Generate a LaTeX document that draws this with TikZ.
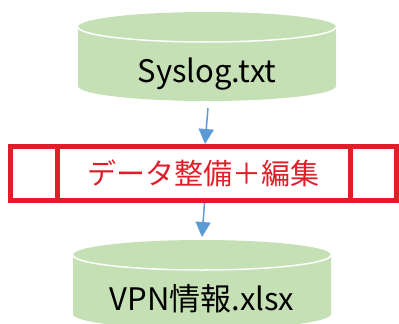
\documentclass[tikz,border=0pt]{standalone}
\usepackage{fontspec}
\setmainfont{Noto Sans CJK JP}
\usetikzlibrary{arrows.meta,positioning,backgrounds}
\definecolor{dbgreen}{HTML}{C5E0B4}
\definecolor{procred}{HTML}{E01E2A}
\definecolor{flowblue}{HTML}{5B9BD5}
\begin{document}
\begin{tikzpicture}[
    x=1pt, y=-1pt,
    database/.style={inner sep=0pt, outer sep=0pt,
        minimum width=258pt, minimum height=89pt,
        text height=52.7pt, text depth=0pt,
        font=\fontsize{31}{31}\selectfont},
    dbrim/.style={draw=white, line width=1.5pt},
    procbox/.style={draw=procred, line width=5pt, outer sep=0pt,
        minimum width=386pt, minimum height=54pt, text=procred,
        font=\fontsize{29}{29}\selectfont},
    procline/.style={draw=procred, line width=5pt},
    flow/.style={draw=flowblue, line width=1.5pt,
        -{Triangle[length=15pt,width=15pt]}}
]
\useasboundingbox (0,0) rectangle (399,324);
% data stores
\node[database] (syslog) at (207,56.5) {Syslog.txt};
\node[database] (vpn) at (202,284.5) {VPN情報.xlsx};
\begin{scope}[on background layer]
\foreach \db in {syslog,vpn}{
    \fill[dbgreen] ([yshift=-15pt]\db.north west) -- ([yshift=15pt]\db.south west)
        arc[start angle=180, end angle=360, x radius=129pt, y radius=15pt]
        -- ([yshift=-15pt]\db.north east)
        arc[start angle=0, end angle=180, x radius=129pt, y radius=15pt] -- cycle;
    \draw[dbrim] ([yshift=-15pt]\db.north west)
        arc[start angle=180, end angle=360, x radius=129pt, y radius=15pt];
}
\end{scope}
% processing step
\node[procbox] (proc) at (203.5,173.5) {データ整備＋編集};
\draw[procline] ([xshift=47pt]proc.north west) -- ([xshift=47pt]proc.south west);
\draw[procline] ([xshift=-46pt]proc.north east) -- ([xshift=-46pt]proc.south east);
% flow
\draw[flow] ([xshift=1pt,yshift=-7pt]syslog.south) -- ([xshift=1.5pt,yshift=2.5pt]proc.north);
\draw[flow] ([xshift=1pt,yshift=-2.5pt]proc.south) -- ([yshift=3pt]vpn.north);
\end{tikzpicture}
\end{document}
